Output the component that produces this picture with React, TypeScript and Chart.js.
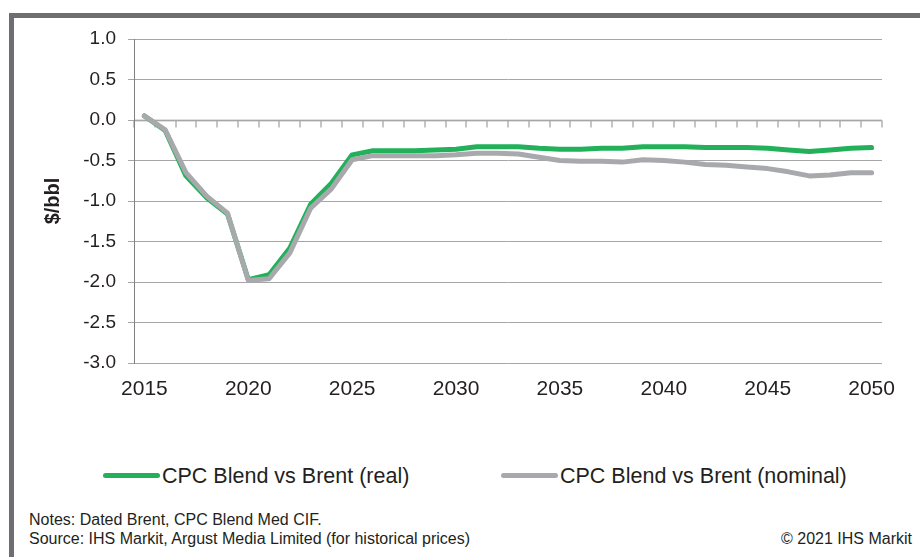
import React, { useEffect, useRef } from "react";
import { Chart, registerables } from "chart.js";

Chart.register(...registerables);

const years = [
  "2015", "2016", "2017", "2018", "2019", "2020", "2021", "2022", "2023", "2024",
  "2025", "2026", "2027", "2028", "2029", "2030", "2031", "2032", "2033", "2034",
  "2035", "2036", "2037", "2038", "2039", "2040", "2041", "2042", "2043", "2044",
  "2045", "2046", "2047", "2048", "2049", "2050",
];

const realValues = [
  0.05, -0.13, -0.69, -0.96, -1.16, -1.97, -1.91, -1.58, -1.04, -0.78,
  -0.43, -0.38, -0.38, -0.38, -0.37, -0.36, -0.33, -0.33, -0.33, -0.35,
  -0.36, -0.36, -0.35, -0.35, -0.33, -0.33, -0.33, -0.34, -0.34, -0.34,
  -0.35, -0.37, -0.39, -0.37, -0.35, -0.34,
];

const nominalValues = [
  0.05, -0.12, -0.65, -0.94, -1.15, -1.98, -1.96, -1.64, -1.09, -0.85,
  -0.49, -0.44, -0.44, -0.44, -0.44, -0.43, -0.41, -0.41, -0.42, -0.46,
  -0.5, -0.51, -0.51, -0.52, -0.49, -0.5, -0.52, -0.55, -0.56, -0.58,
  -0.6, -0.64, -0.69, -0.68, -0.65, -0.65,
];

const seriesNames = ["CPC Blend vs Brent (real)", "CPC Blend vs Brent (nominal)"];
const seriesColors = ["#22b15a", "#a7a9ac"];
const yMin = -3;
const yMax = 1;
const yStep = 0.5;
const yTitle = "$/bbl";
const labelEvery = 5;
const notesLines = [
  "Notes: Dated Brent, CPC Blend Med CIF.",
  "Source: IHS Markit, Argust Media Limited (for historical prices)",
];
const copyright = "© 2021 IHS Markit";

const FONT = "'Liberation Sans', Arial, Helvetica, sans-serif";
const TEXT = "#231f20";
const GRID = "#a6a6a6";
const AXIS = "#808080";

// Category axis line + tick marks drawn where y = 0 (axis crossing at zero)
const zeroAxisPlugin = {
  id: "zeroAxis",
  afterDraw(chart: any) {
    const xs = chart.scales.x;
    const ys = chart.scales.y;
    const { left, right } = chart.chartArea;
    const ctx = chart.ctx;
    const y0 = Math.round(ys.getPixelForValue(0)) + 0.5;
    const n = years.length;
    const band = xs.getPixelForValue(1) - xs.getPixelForValue(0);
    ctx.save();
    ctx.globalCompositeOperation = "destination-over";
    ctx.lineWidth = 1.5;
    ctx.strokeStyle = "#b2b2b2";
    ctx.beginPath();
    for (let i = 0; i <= n; i++) {
      const px = Math.round(xs.getPixelForValue(i) - band / 2);
      ctx.moveTo(px, y0);
      ctx.lineTo(px, y0 + 7);
    }
    ctx.stroke();
    ctx.lineWidth = 1.5;
    ctx.strokeStyle = AXIS;
    ctx.beginPath();
    ctx.moveTo(left, y0);
    ctx.lineTo(right, y0);
    ctx.stroke();
    ctx.restore();
  },
};

export default function App() {
  const canvasRef = useRef<HTMLCanvasElement | null>(null);

  useEffect(() => {
    if (!canvasRef.current) return;
    Chart.defaults.font.family = FONT;
    const chart = new Chart(canvasRef.current, {
      type: "line",
      data: {
        labels: years,
        datasets: [
          {
            label: seriesNames[0],
            data: realValues,
            borderColor: seriesColors[0],
            backgroundColor: seriesColors[0],
            borderWidth: 5,
            pointRadius: 0,
            tension: 0,
            borderCapStyle: "round",
            borderJoinStyle: "round",
            order: 1,
          },
          {
            label: seriesNames[1],
            data: nominalValues,
            borderColor: seriesColors[1],
            backgroundColor: seriesColors[1],
            borderWidth: 5,
            pointRadius: 0,
            tension: 0,
            borderCapStyle: "round",
            borderJoinStyle: "round",
            order: 0,
          },
        ],
      },
      options: {
        animation: false,
        responsive: false,
        maintainAspectRatio: false,
        layout: { padding: { top: 39, right: 38, left: 0, bottom: 0 } },
        plugins: { legend: { display: false }, tooltip: { enabled: false } },
        scales: {
          x: {
            type: "category",
            offset: true,
            grid: { display: false },
            border: { display: false },
            ticks: {
              autoSkip: false,
              maxRotation: 0,
              minRotation: 0,
              padding: 6,
              color: TEXT,
              font: { family: FONT, size: 21 },
              callback: (_v: any, i: number) =>
                Number(years[i]) % labelEvery === 0 ? years[i] : "",
            },
            afterFit: (s: any) => {
              s.height = 57;
            },
          },
          y: {
            min: yMin,
            max: yMax,
            ticks: {
              stepSize: yStep,
              padding: 12,
              color: TEXT,
              font: { family: FONT, size: 19 },
              callback: (v: any) => Number(v).toFixed(1),
            },
            grid: { color: GRID, tickLength: 6, drawTicks: true },
            border: { color: AXIS },
            title: {
              display: true,
              text: yTitle,
              color: TEXT,
              font: { family: FONT, size: 20, weight: "bold" },
              padding: { top: 41, bottom: 0 },
            },
            afterFit: (s: any) => {
              s.width = 134;
            },
          },
        },
      },
      plugins: [zeroAxisPlugin],
    } as any);
    return () => chart.destroy();
  }, []);

  return (
    <div
      style={{
        position: "absolute",
        left: 0,
        top: 0,
        width: 920,
        height: 557,
        overflow: "hidden",
        background: "#fff",
        fontFamily: FONT,
        color: TEXT,
      }}
    >
      <div
        style={{
          position: "absolute",
          left: 9,
          top: 13,
          width: 930,
          height: 560,
          borderTop: "5px solid #6d6e71",
          borderLeft: "5px solid #6d6e71",
        }}
      />
      <canvas
        ref={canvasRef}
        width={920}
        height={420}
        style={{ position: "absolute", left: 0, top: 0, width: 920, height: 420 }}
      />
      {seriesNames.map((name, i) => {
        const left = i === 0 ? 103 : 501;
        return (
          <React.Fragment key={name}>
            <div
              style={{
                position: "absolute",
                left,
                top: 473,
                width: 57,
                height: 5,
                borderRadius: 3,
                background: seriesColors[i],
              }}
            />
            <div
              style={{
                position: "absolute",
                left: left + 59,
                top: 464,
                fontSize: 21.5,
                lineHeight: "24px",
                whiteSpace: "nowrap",
              }}
            >
              {name}
            </div>
          </React.Fragment>
        );
      })}
      {notesLines.map((line, i) => (
        <div
          key={line}
          style={{
            position: "absolute",
            left: 29,
            top: 511 + i * 19,
            fontSize: 16,
            lineHeight: "18px",
            whiteSpace: "nowrap",
          }}
        >
          {line}
        </div>
      ))}
      <div
        style={{
          position: "absolute",
          right: 8,
          top: 530,
          fontSize: 16,
          lineHeight: "18px",
          whiteSpace: "nowrap",
        }}
      >
        {copyright}
      </div>
    </div>
  );
}
